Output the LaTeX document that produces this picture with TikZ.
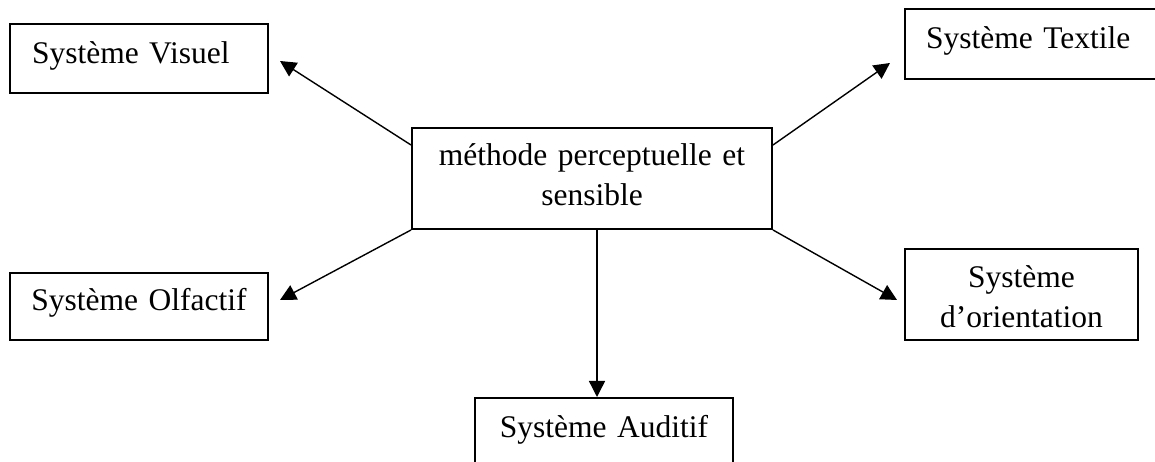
\documentclass[tikz,border=0pt]{standalone}
\usepackage{fontspec}
\setmainfont{Liberation Serif}
\usetikzlibrary{arrows.meta}
\tikzset{
	sysbox/.style={draw,line width=2pt,rectangle,inner sep=0pt,anchor=north west,font=\fontsize{31.5}{40}\selectfont},
	fleche/.style={line width=1.4pt,-{Triangle[length=16pt,width=16pt]}}
}
\begin{document}
\begin{tikzpicture}[x=1pt,y=1pt]
	\useasboundingbox (0,0) rectangle (1155,462);
	% centre
	\node[sysbox,text width=360pt,align=center,text height=38pt,text depth=63pt] (cen) at (411,335) {méthode perceptuelle et\\sensible};
	% systemes
	\node[sysbox,inner xsep=22pt,text width=214pt,align=left,text height=40pt,text depth=29pt] (vis) at (9,439) {Système Visuel};
	\node[sysbox,inner xsep=21pt,text width=214pt,align=left,text height=40pt,text depth=30pt] (tex) at (904,454) {Système Textile};
	\node[sysbox,text width=258pt,align=center,text height=38pt,text depth=29pt] (olf) at (9,190) {Système Olfactif};
	\node[sysbox,text width=233pt,align=center,text height=39pt,text depth=52pt] (ori) at (904,214) {Système\\d’orientation};
	\node[sysbox,text width=258pt,align=center,text height=40pt,text depth=43pt] (aud) at (474,65) {Système Auditif};
	% fleches
	\draw[fleche] ([yshift=-18pt]cen.north west) -- ([shift={(11,-2.5)}]vis.east);
	\draw[fleche] ([yshift=-18pt]cen.north east) -- ([shift={(-14,-19)}]tex.west);
	\draw[fleche] (cen.south west) -- ([shift={(11,6.5)}]olf.east);
	\draw[fleche] (cen.south east) -- ([shift={(-7,-5.5)}]ori.west);
	\draw[fleche] ([xshift=5pt]cen.south) -- ([xshift=5pt]cen.south |- aud.north);
\end{tikzpicture}
\end{document}
